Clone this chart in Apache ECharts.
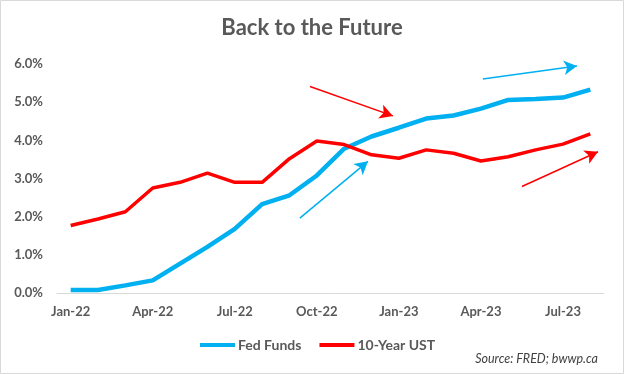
<!DOCTYPE html>
<html>
<head>
<meta charset="utf-8">
<script src="https://cdn.jsdelivr.net/npm/echarts@6/dist/echarts.min.js"></script>
<style>html,body{margin:0;padding:0;background:#fff;}#c{width:624px;height:374px;}</style>
</head>
<body>
<div id="c"></div>
<script>
const months = ['Jan-22','Feb-22','Mar-22','Apr-22','May-22','Jun-22','Jul-22','Aug-22','Sep-22','Oct-22','Nov-22','Dec-22',
  'Jan-23','Feb-23','Mar-23','Apr-23','May-23','Jun-23','Jul-23','Aug-23'];
const fedFunds = [0.08,0.08,0.20,0.33,0.77,1.21,1.68,2.33,2.56,3.08,3.78,4.10,4.33,4.57,4.65,4.83,5.06,5.08,5.12,5.33];
const ust10 = [1.77,1.94,2.13,2.75,2.90,3.14,2.90,2.90,3.52,3.98,3.89,3.62,3.53,3.75,3.66,3.46,3.57,3.75,3.90,4.17];
const yTicks = [0,1,2,3,4,5,6];
// annotation arrows: [monthIndex, value] start / end
const blueArrows = [[[8.38,1.96],[10.87,3.45]], [[15.07,5.61],[18.51,5.95]]];
const redArrows = [[[8.75,5.41],[11.78,4.64]], [[16.5,2.79],[19.28,3.70]]];

const FONT = 'Lato';
const chart = echarts.init(document.getElementById('c'), null, {renderer:'canvas'});
function arrowData(arr){
  return arr.map(a => [{coord:a[0]},{coord:a[1]}]);
}
function arrowSeries(color, arr){
  return {type:'line', xAxisIndex:1, data:[], symbol:'none', silent:true,
    markLine:{silent:true, symbol:['none','arrow'], symbolSize:[11,13], label:{show:false},
      lineStyle:{color:color, width:1.5, type:'solid'}, data:arrowData(arr)}};
}
chart.setOption({
  animation:false,
  backgroundColor:'#fff',
  title:{text:'Back to the Future', left:'center', top:12,
    textStyle:{fontFamily:FONT, fontSize:22, fontWeight:'bold', color:'#595959'}},
  grid:{left:57, right:20, top:64, bottom:81},
  legend:{bottom:17, left:195, itemWidth:35, itemHeight:4, itemGap:18,
    data:['Fed Funds','10-Year UST'],
    textStyle:{fontFamily:FONT, fontSize:14, fontWeight:'bold', color:'#595959', padding:[0,0,0,-2]},
    icon:'rect'},
  xAxis:[{type:'category', data:months, boundaryGap:true,
    axisLine:{lineStyle:{color:'#d9d9d9', width:1}},
    axisTick:{show:false},
    axisLabel:{interval:2, fontFamily:FONT, fontSize:13, fontWeight:'bold', color:'#595959', margin:12}},
    {type:'value', min:-0.5, max:months.length-0.5, show:false}],
  yAxis:{type:'value', min:yTicks[0], max:yTicks[yTicks.length-1], interval:1,
    axisLine:{show:false}, axisTick:{show:false}, splitLine:{show:false},
    axisLabel:{formatter:v=>v.toFixed(1)+'%', fontFamily:FONT, fontSize:13, fontWeight:'bold', color:'#595959', margin:14}},
  series:[
    {name:'Fed Funds', type:'line', data:fedFunds, symbol:'none', lineStyle:{color:'#00B0F0', width:4.5}, itemStyle:{color:'#00B0F0'}},
    {name:'10-Year UST', type:'line', data:ust10, symbol:'none', lineStyle:{color:'#FF0000', width:3.5}, itemStyle:{color:'#FF0000'}},
    arrowSeries('#00B0F0', blueArrows),
    arrowSeries('#FF0000', redArrows)
  ],
  graphic:[
    {type:'text', right:26, bottom:9, style:{text:'Source: FRED; bwwp.ca', fontFamily:FONT, fontSize:12.5, fontStyle:'italic', fill:'#404040'}},
    {type:'rect', shape:{x:0.5,y:0.5,width:623,height:373}, style:{fill:null, stroke:'#d9d9d9', lineWidth:1}}
  ]
});
</script>
</body>
</html>
